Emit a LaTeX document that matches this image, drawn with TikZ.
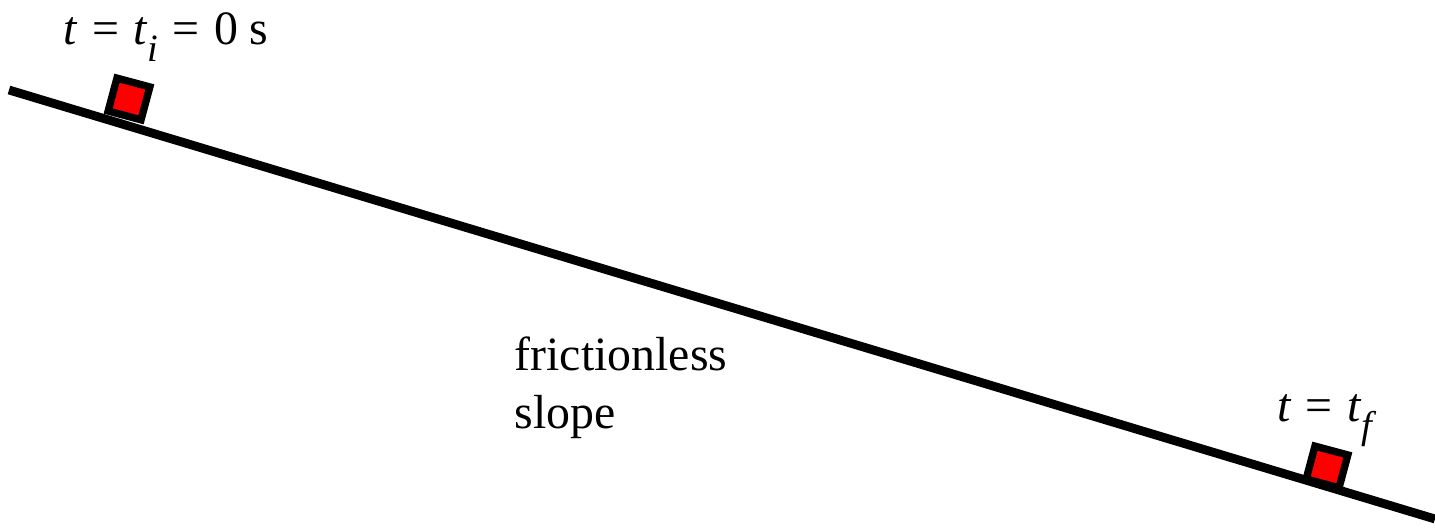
\documentclass[tikz,border=0pt]{standalone}
\usepackage{fontspec}
\setmainfont{Liberation Serif}
\usepackage{tikz}
\usetikzlibrary{positioning, calc}

\newcommand{\lowsub}[1]{\raisebox{-0.75ex}{\fontsize{11}{11}\selectfont\textit{#1}}}
\newcommand{\eqsign}{\hspace{0.3em}=\hspace{0.3em}}

\begin{document}
\begin{tikzpicture}[x=0.01cm, y=-0.01cm, font=\fontsize{13.6}{16.5}\selectfont,
		block/.style={draw, fill=red, line width=2.1pt, minimum size=0.34cm, inner sep=0pt, rotate=-15}]
	\useasboundingbox (0,0) rectangle (1435,528);
	
	% the slope
	\coordinate (top) at (9,90);
	\coordinate (bottom) at (1435,519);
	\draw[line width=2.5pt] (top) -- (bottom);
	
	% block at start and end
	\node[block] (start) at (129,99) {};
	\node[block] (finish) at (1327,467) {};
	
	\node[anchor=base] (startlabel) at (166,45) {\textit{t}\eqsign\textit{t}\lowsub{i}\eqsign 0 s};
	\node[anchor=base] (finishlabel) at (1327,422) {\textit{t}\eqsign\textit{t}\lowsub{f}};
	
	\node[align=left, anchor=north west, inner sep=0pt] (slopelabel) at (514,336) {frictionless\\slope};
\end{tikzpicture}
\end{document}
